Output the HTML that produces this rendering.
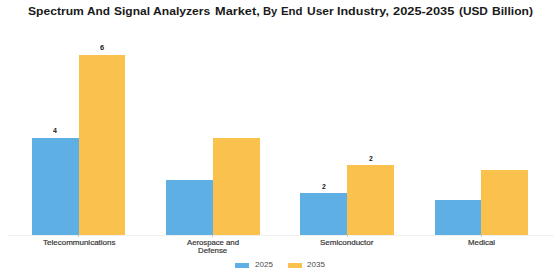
<!DOCTYPE html>
<html><head><meta charset="utf-8">
<style>
html,body{margin:0;padding:0;background:#fff;}
body{width:560px;height:280px;position:relative;overflow:hidden;font-family:"Liberation Sans",sans-serif;}
div{position:absolute;}
span{position:absolute;white-space:nowrap;line-height:1;transform-origin:0 0;}
</style></head><body>
<span style="left:27.74px;top:5.97px;font-size:10.55px;transform:scaleX(1.1484);font-weight:bold;color:#1a1a1a;">Spectrum</span>
<span style="left:87.05px;top:5.97px;font-size:10.55px;transform:scaleX(1.1211);font-weight:bold;color:#1a1a1a;">And</span>
<span style="left:114.12px;top:5.97px;font-size:10.55px;transform:scaleX(1.1365);font-weight:bold;color:#1a1a1a;">Signal</span>
<span style="left:153.47px;top:5.97px;font-size:10.55px;transform:scaleX(1.1509);font-weight:bold;color:#1a1a1a;">Analyzers</span>
<span style="left:214.51px;top:5.97px;font-size:10.55px;transform:scaleX(1.2102);font-weight:bold;color:#1a1a1a;">Market,</span>
<span style="left:263.20px;top:5.97px;font-size:10.55px;transform:scaleX(1.0626);font-weight:bold;color:#1a1a1a;">By</span>
<span style="left:281.46px;top:5.97px;font-size:10.55px;transform:scaleX(1.0839);font-weight:bold;color:#1a1a1a;">End</span>
<span style="left:307.02px;top:5.97px;font-size:10.55px;transform:scaleX(1.1351);font-weight:bold;color:#1a1a1a;">User</span>
<span style="left:337.24px;top:5.97px;font-size:10.55px;transform:scaleX(1.1852);font-weight:bold;color:#1a1a1a;">Industry,</span>
<span style="left:393.30px;top:5.97px;font-size:10.55px;transform:scaleX(1.2149);font-weight:bold;color:#1a1a1a;">2025-2035</span>
<span style="left:458.85px;top:5.97px;font-size:10.55px;transform:scaleX(1.1210);font-weight:bold;color:#1a1a1a;">(USD</span>
<span style="left:491.55px;top:5.97px;font-size:10.55px;transform:scaleX(1.1462);font-weight:bold;color:#1a1a1a;">Billion)</span>
<div style="left:8px;top:234.60px;width:546px;height:1px;background:#f0f0f0"></div>
<div style="left:32.00px;top:137.70px;width:46.70px;height:97.00px;background:#5eafe4"></div>
<div style="left:78.70px;top:54.50px;width:46.70px;height:180.20px;background:#fac24c"></div>
<div style="left:166.20px;top:179.60px;width:46.70px;height:55.10px;background:#5eafe4"></div>
<div style="left:212.90px;top:137.70px;width:46.70px;height:97.00px;background:#fac24c"></div>
<div style="left:300.35px;top:193.20px;width:46.70px;height:41.50px;background:#5eafe4"></div>
<div style="left:347.05px;top:165.20px;width:46.70px;height:69.50px;background:#fac24c"></div>
<div style="left:434.50px;top:199.80px;width:46.70px;height:34.90px;background:#5eafe4"></div>
<div style="left:481.20px;top:169.80px;width:46.70px;height:64.90px;background:#fac24c"></div>
<div style="left:78.20px;top:234.70px;width:1px;height:2.6px;background:#c8c8c8"></div>
<div style="left:212.40px;top:234.70px;width:1px;height:2.6px;background:#c8c8c8"></div>
<div style="left:346.55px;top:234.70px;width:1px;height:2.6px;background:#c8c8c8"></div>
<div style="left:480.70px;top:234.70px;width:1px;height:2.6px;background:#c8c8c8"></div>
<span style="left:53.37px;top:127.74px;font-size:6.57px;transform:scaleX(1.0672);font-weight:bold;color:#1a1a1a;">4</span>
<span style="left:99.97px;top:44.84px;font-size:6.57px;transform:scaleX(1.1345);font-weight:bold;color:#1a1a1a;">6</span>
<span style="left:321.82px;top:183.54px;font-size:6.57px;transform:scaleX(1.0367);font-weight:bold;color:#1a1a1a;">2</span>
<span style="left:368.52px;top:155.54px;font-size:6.57px;transform:scaleX(1.0367);font-weight:bold;color:#1a1a1a;">2</span>
<span style="left:42.61px;top:239.23px;font-size:7.52px;transform:scaleX(1.0648);font-weight:normal;color:#333333;-webkit-text-stroke:0.18px #333333">Telecommunications</span>
<span style="left:187.05px;top:239.23px;font-size:7.52px;transform:scaleX(1.0275);font-weight:normal;color:#333333;-webkit-text-stroke:0.18px #333333">Aerospace</span>
<span style="left:226.40px;top:239.23px;font-size:7.52px;transform:scaleX(1.0464);font-weight:normal;color:#333333;-webkit-text-stroke:0.18px #333333">and</span>
<span style="left:198.30px;top:246.83px;font-size:7.52px;transform:scaleX(1.0421);font-weight:normal;color:#333333;-webkit-text-stroke:0.18px #333333">Defense</span>
<span style="left:320.33px;top:239.23px;font-size:7.52px;transform:scaleX(1.0662);font-weight:normal;color:#333333;-webkit-text-stroke:0.18px #333333">Semiconductor</span>
<span style="left:467.78px;top:239.23px;font-size:7.52px;transform:scaleX(1.0426);font-weight:normal;color:#333333;-webkit-text-stroke:0.18px #333333">Medical</span>
<div style="left:234.9px;top:262.9px;width:14px;height:4.7px;background:#5eafe4"></div>
<span style="left:254.70px;top:261.14px;font-size:7.63px;transform:scaleX(1.0566);font-weight:normal;color:#4a4a4a;">2025</span>
<div style="left:287.6px;top:262.9px;width:14px;height:4.7px;background:#fac24c"></div>
<span style="left:307.05px;top:261.14px;font-size:7.63px;transform:scaleX(1.0566);font-weight:normal;color:#4a4a4a;">2035</span>
</body></html>
